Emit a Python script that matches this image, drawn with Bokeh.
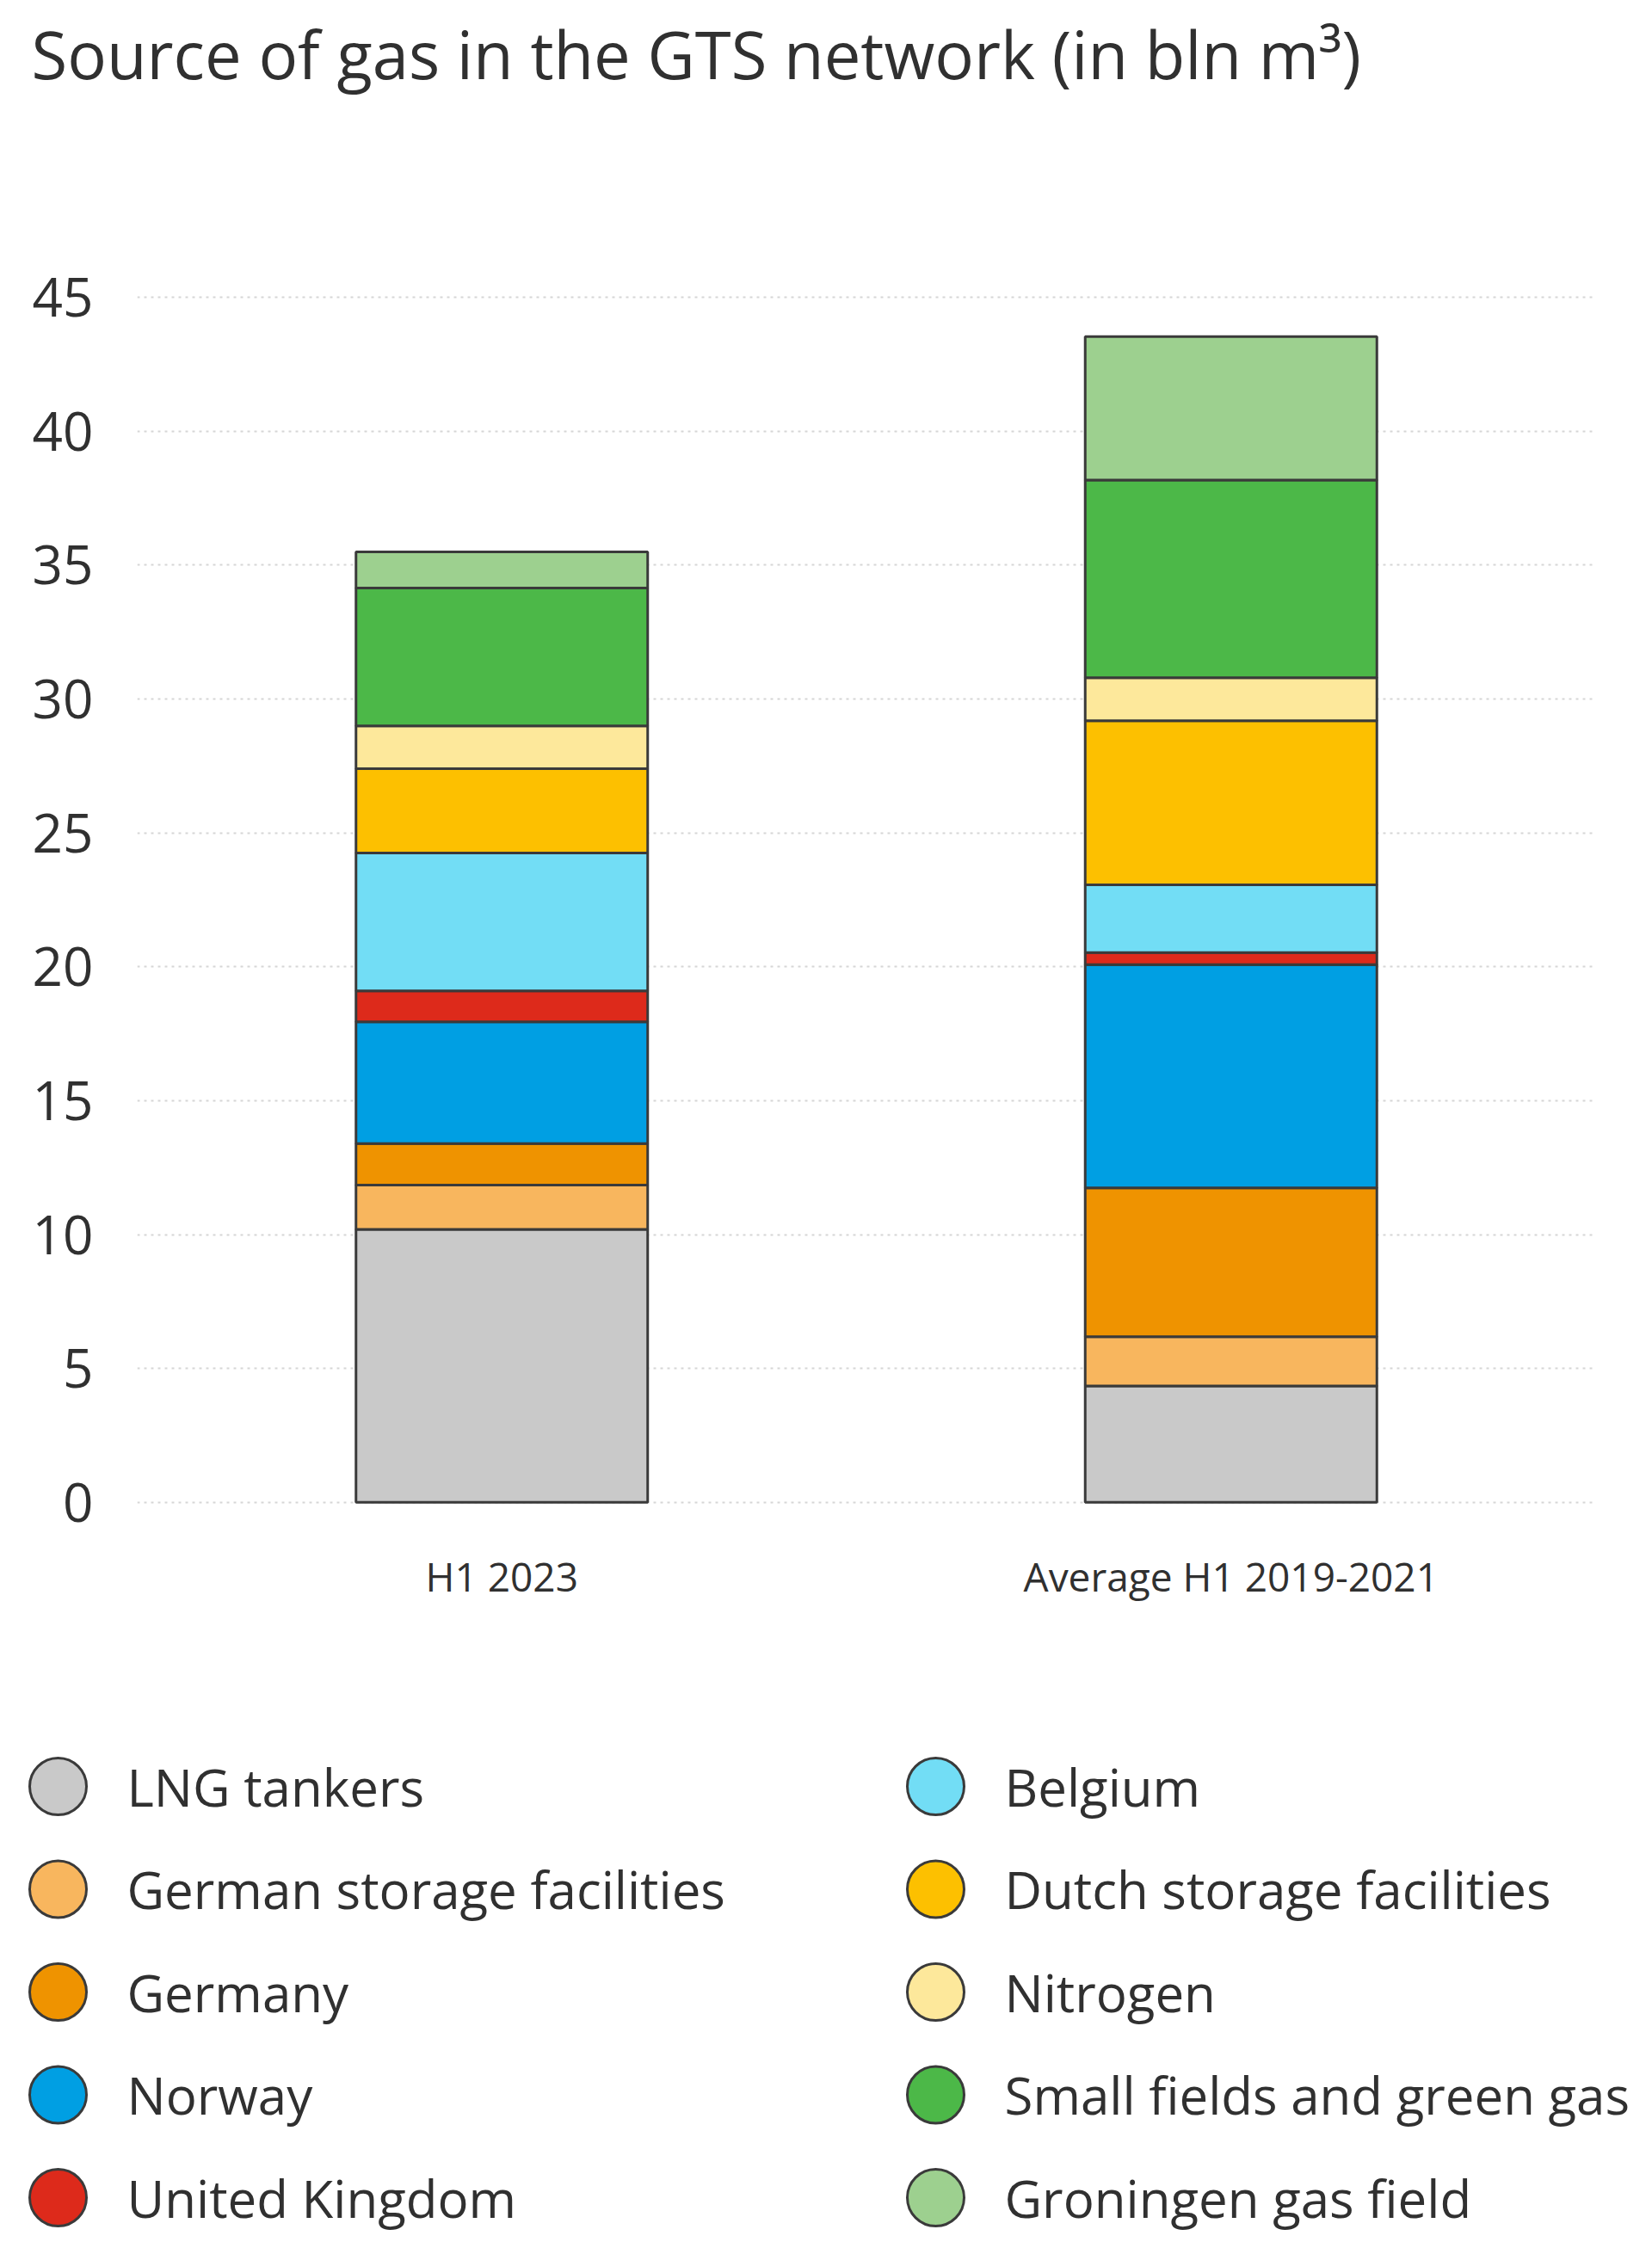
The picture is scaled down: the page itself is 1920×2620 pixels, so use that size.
from bokeh.plotting import figure
from bokeh.models import ColumnDataSource, FactorRange, Range1d, FixedTicker
from bokeh.layouts import column
from bokeh.core.properties import value
from bokeh.embed import file_html
from bokeh.resources import INLINE

# ---------------- data ----------------
periods = ["H1 2023", "Average H1 2019-2021"]
sources = ["LNG tankers", "German storage facilities", "Germany", "Norway",
           "United Kingdom", "Belgium", "Dutch storage facilities", "Nitrogen",
           "Small fields and green gas", "Groningen gas field"]
lng = [10.2, 4.35]
german_storage = [1.65, 1.84]
germany = [1.55, 5.56]
norway = [4.55, 8.33]
united_kingdom = [1.15, 0.45]
belgium = [5.15, 2.53]
dutch_storage = [3.15, 6.13]
nitrogen = [1.6, 1.61]
small_fields = [5.15, 7.38]
groningen = [1.35, 5.36]
y_ticks = [0, 5, 10, 15, 20, 25, 30, 35, 40, 45]

colors = ["#c9c9c9", "#f8b65e", "#ef9300", "#009fe3", "#dd2a1b",
          "#72ddf5", "#fdc000", "#fde89b", "#4cb848", "#9dd08f"]
series = [lng, german_storage, germany, norway, united_kingdom,
          belgium, dutch_storage, nitrogen, small_fields, groningen]

FONT = "Open Sans"
TXT = "#303030"

data = {"period": periods}
for name, vals in zip(sources, series):
    data[name] = vals
source = ColumnDataSource(data)

# ---------------- chart ----------------
W = 1904
H1 = 1880
p = figure(width=W, height=H1, x_range=FactorRange(*periods, range_padding=0),
           y_range=Range1d(-1, 52.62), output_backend="svg", toolbar_location=None,
           min_border_left=159, min_border_right=50, min_border_top=108,
           min_border_bottom=103)
p.outline_line_color = None
p.background_fill_color = "white"

p.title.text = "Source of gas in the GTS network (in bln m³)"
p.title.align = "left"
p.title.offset = -123
p.title.vertical_align = "top"
p.title.standoff = -14
p.title.text_font = FONT
p.title.text_font_size = "76px"
p.title.text_font_style = "normal"
p.title.text_color = TXT

p.vbar_stack(sources, x="period", width=0.4, color=colors, source=source,
             line_color="#3a3a3a", line_width=3)

p.xgrid.grid_line_color = None
p.ygrid.grid_line_color = "#d6d6d6"
p.ygrid.grid_line_dash = "3 5"
p.ygrid.grid_line_width = 2
p.yaxis.ticker = FixedTicker(ticks=y_ticks)

for ax in (p.xaxis, p.yaxis):
    ax.axis_line_color = None
    ax.major_tick_line_color = None
    ax.minor_tick_line_color = None
    ax.major_tick_out = 0
    ax.major_tick_in = 0
    ax.major_label_text_font = FONT
    ax.major_label_text_color = TXT
p.yaxis.major_label_text_font_size = "62px"
p.yaxis.major_label_standoff = 51
p.xaxis.major_label_text_font_size = "46px"
p.xaxis.major_label_standoff = 23

# ---------------- legend ----------------
LH = 716
leg = figure(width=W, height=LH, x_range=Range1d(0, W), y_range=Range1d(LH, 0),
             output_backend="svg", toolbar_location=None,
             min_border_left=0, min_border_right=0, min_border_top=0, min_border_bottom=0)
leg.axis.visible = False
leg.grid.visible = False
leg.outline_line_color = None

col_x = [67, 1087]
row_y0, row_dy = 196, 119.5
mx, my, tx = [], [], []
for i, name in enumerate(sources):
    c, r = divmod(i, 5)
    mx.append(col_x[c])
    my.append(row_y0 + r * row_dy)
    tx.append(col_x[c] + 80)
lsrc = ColumnDataSource(dict(x=mx, y=my, tx=tx, label=sources, color=colors))
leg.scatter("x", "y", source=lsrc, size=66, fill_color="color",
            line_color="#3a3a3a", line_width=3)
leg.text("tx", "y", text="label", source=lsrc, text_font=value(FONT),
         text_font_size="60px", text_color=TXT, text_baseline="middle")

layout = column(column(p), column(leg), spacing=0)
open("out.html", "w").write(file_html(layout, INLINE))
